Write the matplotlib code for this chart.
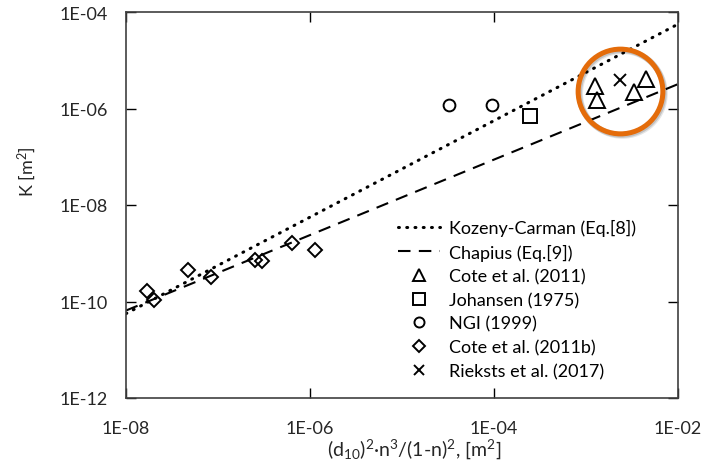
import numpy as np
import matplotlib
matplotlib.use("Agg")
import matplotlib.pyplot as plt
from matplotlib.ticker import FixedLocator, FuncFormatter, NullLocator

plt.rcParams['font.family'] = ['Lato', 'DejaVu Sans']
plt.rcParams['mathtext.fontset'] = 'custom'
plt.rcParams['mathtext.rm'] = 'Lato'
plt.rcParams['mathtext.it'] = 'Lato'

# model lines (straight on log-log, two end points each)
kc_x = [1e-8, 1e-2]
kc_k = [5.6e-11, 5.6e-5]
ch_x = [1e-8, 1e-2]
ch_k = [6.5e-11, 3.2e-6]

# measured data
cote_x = [1.25e-3, 1.32e-3, 3.33e-3, 4.49e-3]
cote_k = [2.9e-6, 1.5e-6, 2.2e-6, 4.1e-6]
joh_x = [2.46e-4]
joh_k = [7.0e-7]
ngi_x = [3.24e-5, 9.5e-5]
ngi_k = [1.18e-6, 1.18e-6]
coteb_x = [1.69e-8, 2.01e-8, 4.72e-8, 8.4e-8, 2.52e-7, 3.0e-7, 6.37e-7, 1.13e-6]
coteb_k = [1.65e-10, 1.07e-10, 4.5e-10, 3.22e-10, 7.24e-10, 6.9e-10, 1.63e-9, 1.17e-9]
rie_x = [2.35e-3]
rie_k = [3.9e-6]

# highlight ring
ring_x = 2.35e-3
ring_k = 2.3e-6

xticks = [1e-8, 1e-6, 1e-4, 1e-2]
yticks = [1e-12, 1e-10, 1e-8, 1e-6, 1e-4]

fig = plt.figure(figsize=(7.12, 4.64), dpi=100)
ax = fig.add_axes([126/712, 1-399/464, 552/712, 386/464])
ax.set_xscale('log')
ax.set_yscale('log')

ax.plot(kc_x, kc_k, color='black', lw=2.2, linestyle=(0, (0.3, 2.4)),
        dash_capstyle='round', label='Kozeny-Carman (Eq.[8])')
ax.plot(ch_x, ch_k, color='black', lw=1.5, linestyle=(0, (6, 4)),
        label='Chapius (Eq.[9])')

mk = dict(linestyle='none', color='black', markerfacecolor='none', markeredgewidth=1.4)
ax.plot(cote_x, cote_k, marker='^', markersize=11, label='Cote et al. (2011)', **mk)
ax.plot(joh_x, joh_k, marker='s', markersize=9.5, label='Johansen (1975)', **mk)
ax.plot(ngi_x, ngi_k, marker='o', markersize=8.5, label='NGI (1999)', **mk)
ax.plot(coteb_x, coteb_k, marker='D', markersize=7.2, label='Cote et al. (2011b)', **mk)
ax.plot(rie_x, rie_k, marker='x', markersize=8.5, label='Rieksts et al. (2017)', **mk)

# orange ring with a soft shadow
for dx, a in [(1.5, 0.10), (0.8, 0.15)]:
    ax.plot([ring_x], [ring_k], marker='o', markersize=61, markerfacecolor='none',
            markeredgecolor='black', alpha=a, markeredgewidth=4.2, linestyle='none',
            transform=ax.transData + matplotlib.transforms.ScaledTranslation(
                dx / 72, -dx / 72, fig.dpi_scale_trans))
ax.plot([ring_x], [ring_k], marker='o', markersize=61, markerfacecolor='none',
        markeredgecolor='#E46C0A', markeredgewidth=3.6, linestyle='none')

ax.set_xlim(1e-8, 1e-2)
ax.set_ylim(1e-12, 1e-4)
ax.xaxis.set_major_locator(FixedLocator(xticks))
ax.yaxis.set_major_locator(FixedLocator(yticks))
ax.xaxis.set_minor_locator(NullLocator())
ax.yaxis.set_minor_locator(NullLocator())
fmt = FuncFormatter(lambda v, p: '1E-%02d' % round(-np.log10(v)))
ax.xaxis.set_major_formatter(fmt)
ax.yaxis.set_major_formatter(fmt)
ax.tick_params(axis='both', which='major', direction='in', length=7, width=1,
               labelsize=13, colors='black', labelcolor='#262626',
               top=True, right=True)
ax.tick_params(axis='x', pad=16)
ax.tick_params(axis='y', pad=13)
for s in ax.spines.values():
    s.set_linewidth(1.2)
    s.set_color('#404040')

ax.set_xlabel(r'$\mathregular{(d_{10})^2}$·n$\mathregular{^3}$/(1-n)$\mathregular{^2}$, [m$\mathregular{^2}$]',
              fontsize=14, color='#262626')
ax.xaxis.set_label_coords(0.522, -0.098)
ax.set_ylabel(r'K [m$\mathregular{^2}$]', fontsize=13, color='#262626')
ax.yaxis.set_label_coords(-0.16, 0.588)

ax.legend(loc='upper left', bbox_to_anchor=(398/712, 1-220/464),
          bbox_transform=fig.transFigure, frameon=False, fontsize=13,
          borderpad=0, borderaxespad=0, handlelength=2.3, handletextpad=0.55,
          labelspacing=0.42, markerscale=0.85)

fig.savefig('out.png', dpi=100)
